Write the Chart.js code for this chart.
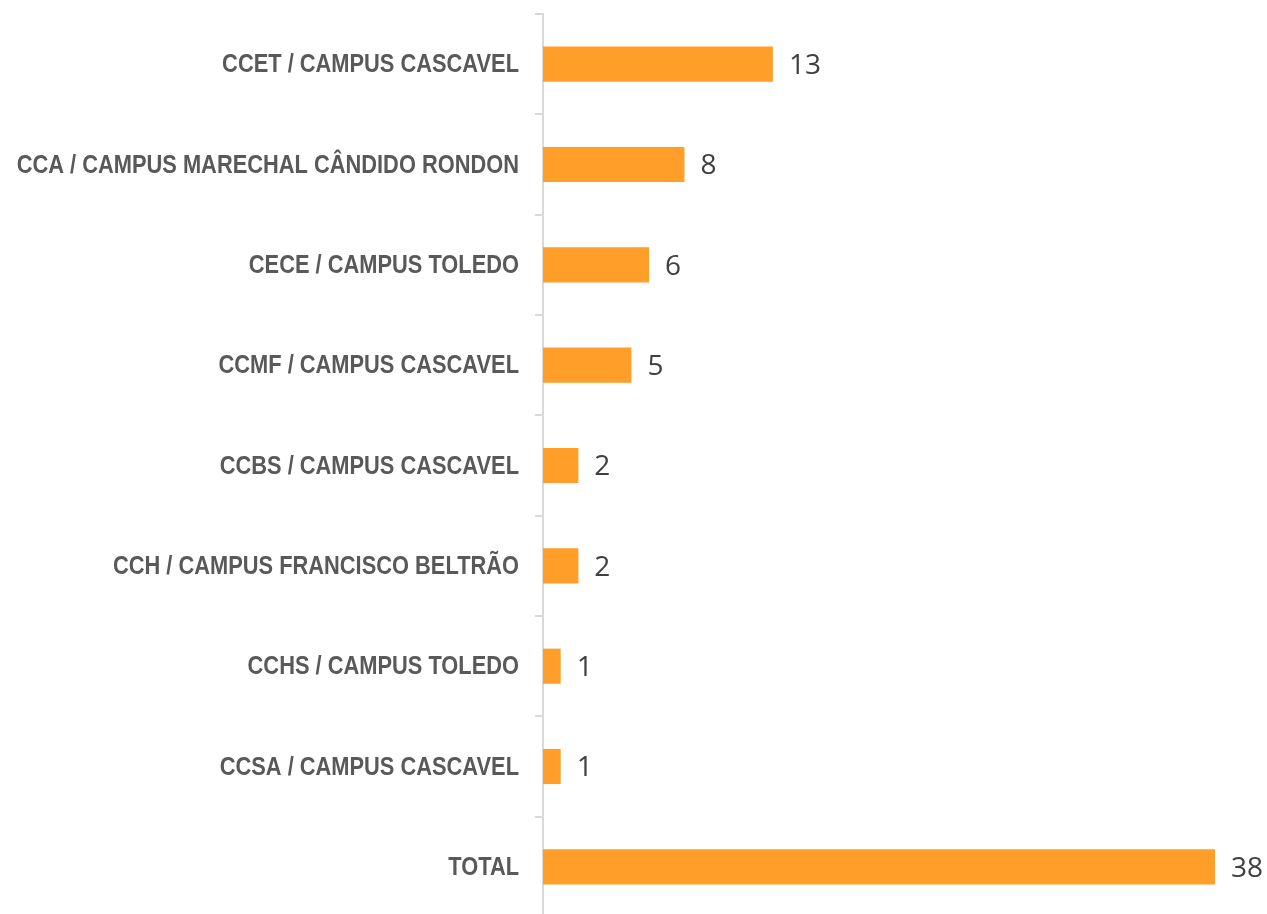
<!DOCTYPE html>
<html>
<head>
<meta charset="utf-8">
<script src="https://cdn.jsdelivr.net/npm/chart.js@4/dist/chart.umd.min.js"></script>
<style>
  html, body { margin: 0; padding: 0; background: #fff; overflow: hidden; }
  #wrap { width: 1267px; height: 917px; }
</style>
</head>
<body>
<div id="wrap"><canvas id="grafico"></canvas></div>
<script>
// dados
const categorias = [
  'CCET / CAMPUS CASCAVEL',
  'CCA / CAMPUS MARECHAL CÂNDIDO RONDON',
  'CECE / CAMPUS TOLEDO',
  'CCMF / CAMPUS CASCAVEL',
  'CCBS / CAMPUS CASCAVEL',
  'CCH / CAMPUS FRANCISCO BELTRÃO',
  'CCHS / CAMPUS TOLEDO',
  'CCSA / CAMPUS CASCAVEL',
  'TOTAL'
];
const valores = [13, 8, 6, 5, 2, 2, 1, 1, 38];

// rótulos das categorias em fonte "estreita" (não há Arial Narrow, então comprime a Liberation Sans)
const rotulosCategorias = {
  id: 'rotulosCategorias',
  afterDraw(chart) {
    const ctx = chart.ctx;
    const escalaY = chart.scales.y;
    const xDir = chart.chartArea.left - 24;
    ctx.save();
    ctx.font = 'bold 26px "Liberation Sans", Arial, sans-serif';
    ctx.fillStyle = '#595959';
    ctx.textAlign = 'right';
    ctx.textBaseline = 'middle';
    categorias.forEach((nome, i) => {
      const y = escalaY.getPixelForTick(i);
      ctx.save();
      ctx.translate(xDir, y + 1);
      ctx.scale(0.84, 1);
      ctx.fillText(nome, 0, 0);
      ctx.restore();
    });
    ctx.restore();
  }
};

// escreve o valor ao lado de cada barra
const rotulosValores = {
  id: 'rotulosValores',
  afterDatasetsDraw(chart) {
    const ctx = chart.ctx;
    const meta = chart.getDatasetMeta(0);
    ctx.save();
    ctx.font = '28px "Open Sans", sans-serif';
    ctx.fillStyle = '#404040';
    ctx.textAlign = 'left';
    ctx.textBaseline = 'middle';
    meta.data.forEach((barra, i) => {
      ctx.fillText(String(valores[i]), barra.x + 16, barra.y + 2);
    });
    ctx.restore();
  }
};

new Chart(document.getElementById('grafico'), {
  type: 'bar',
  data: {
    labels: categorias,
    datasets: [{
      data: valores,
      backgroundColor: '#FF9E28',
      borderWidth: 0,
      barPercentage: 0.7,
      categoryPercentage: 0.5
    }]
  },
  options: {
    indexAxis: 'y',
    responsive: true,
    maintainAspectRatio: false,
    animation: false,
    layout: { padding: { top: 14, bottom: 0, right: 52, left: 0 } },
    plugins: {
      legend: { display: false },
      tooltip: { enabled: false }
    },
    scales: {
      x: {
        display: false,
        min: 0,
        max: 38
      },
      y: {
        afterFit(scale) {
          scale.width = 543;
          scale.paddingTop = 0;
          scale.paddingBottom = 0;
        },
        border: { display: true, color: '#d9d9d9', width: 2 },
        grid: {
          offset: true,
          drawOnChartArea: false,
          drawTicks: true,
          tickLength: 8,
          color: '#d9d9d9',
          lineWidth: 2
        },
        ticks: { display: false }
      }
    }
  },
  plugins: [rotulosValores, rotulosCategorias]
});
</script>
</body>
</html>
